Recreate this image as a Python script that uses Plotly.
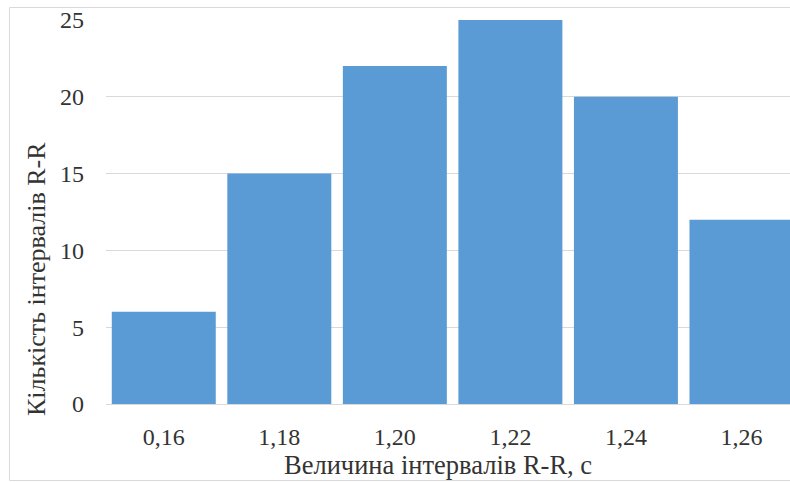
import plotly.graph_objects as go

categories = ["0,16", "1,18", "1,20", "1,22", "1,24", "1,26"]
counts = [6, 15, 22, 25, 20, 12]
y_ticks = [0, 5, 10, 15, 20, 25]
x_title = "Величина інтервалів R-R, с"
y_title = "Кількість інтервалів R-R"

W, H = 790, 482
L, R, T, B = 106, 0, 20, 78
pw, ph = W - L - R, H - T - B

def px_x(x):
    return (x - L) / pw

def px_y(y):
    return (H - B - y) / ph

FONT = "Liberation Serif"
TXT = "#333333"

fig = go.Figure(go.Bar(
    x=list(range(len(categories))), y=counts,
    marker=dict(color="#5b9bd5", line=dict(width=0)),
    hoverinfo="skip",
))

fig.update_layout(
    width=W, height=H,
    margin=dict(l=L, r=R, t=T, b=B, autoexpand=False),
    paper_bgcolor="white", plot_bgcolor="white",
    bargap=0.1, showlegend=False,
    font=dict(family=FONT, size=24, color=TXT),
    xaxis=dict(
        range=[-0.5, 5.42], tickmode="array",
        tickvals=list(range(len(categories))), ticktext=categories,
        showgrid=False, zeroline=False,
        showline=True, linecolor="#d9d9d9", linewidth=1,
        ticks="", ticklabelstandoff=11,
        tickfont=dict(family=FONT, size=24, color=TXT),
    ),
    yaxis=dict(
        range=[0, 25], tickmode="array", tickvals=y_ticks,
        showgrid=True, gridcolor="#d9d9d9", gridwidth=1,
        zeroline=False, showline=False, ticks="",
        ticklabelstandoff=21,
        tickfont=dict(family=FONT, size=24, color=TXT),
    ),
    annotations=[
        dict(text=x_title, xref="paper", yref="paper",
             x=px_x(438), y=px_y(465), showarrow=False,
             xanchor="center", yanchor="middle",
             font=dict(family=FONT, size=26.5, color=TXT)),
        dict(text=y_title, xref="paper", yref="paper",
             x=px_x(36), y=px_y(279), showarrow=False, textangle=-90,
             xanchor="center", yanchor="middle",
             font=dict(family=FONT, size=26, color=TXT)),
    ],
    shapes=[
        dict(type="rect", xref="paper", yref="paper",
             x0=px_x(9.5), x1=px_x(800), y0=px_y(480.5), y1=px_y(7.5),
             line=dict(color="#d9d9d9", width=1), fillcolor="rgba(0,0,0,0)",
             layer="below"),
    ],
)

fig.write_html("out.html")
